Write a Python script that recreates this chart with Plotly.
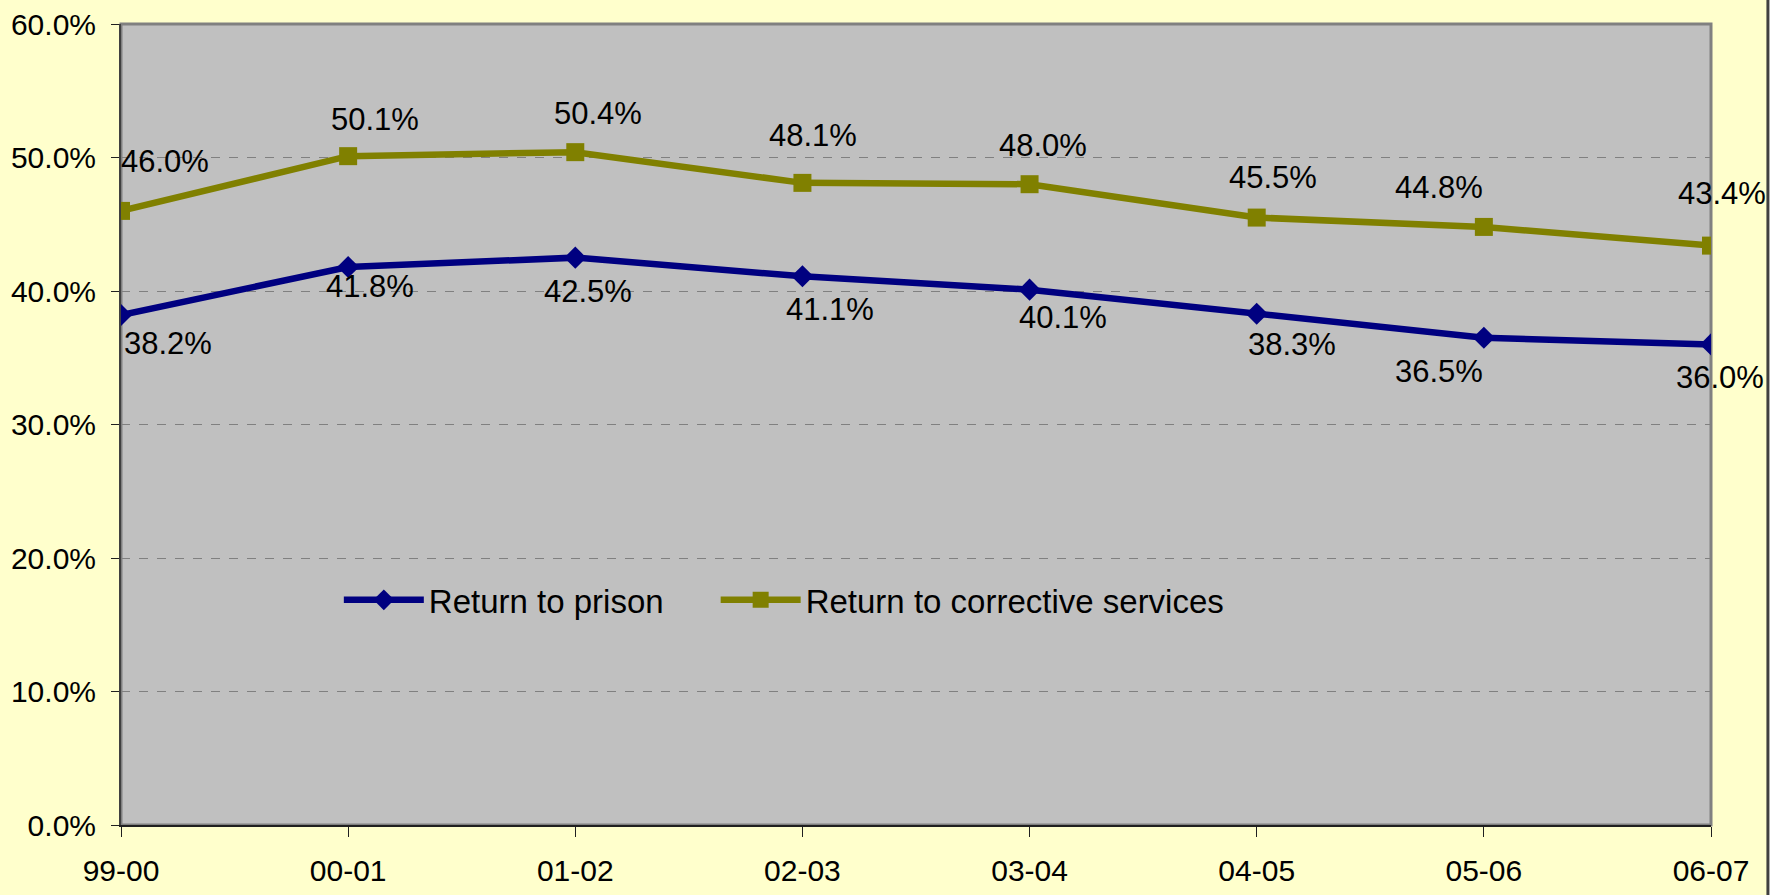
import plotly.graph_objects as go

years = ["99-00", "00-01", "01-02", "02-03", "03-04", "04-05", "05-06", "06-07"]
return_to_prison = [38.2, 41.8, 42.5, 41.1, 40.1, 38.3, 36.5, 36.0]
return_to_corrective = [46.0, 50.1, 50.4, 48.1, 48.0, 45.5, 44.8, 43.4]
y_ticks = [0, 10, 20, 30, 40, 50, 60]

# label pixel offsets (style) relative to the point: (dx, dy down)
prison_label_offsets = [(47, 28), (22, 20), (13, 34), (28, 33), (33, 28), (35, 31), (-45, 34), (9, 33)]
corrective_label_offsets = [(44, -49), (27, -37), (23, -39), (11, -47), (13, -39), (16, -40), (-45, -39), (11, -52)]

FONT = "Liberation Sans, Arial, sans-serif"
NAVY = "#000080"
OLIVE = "#808000"

fig = go.Figure()
fig.add_trace(go.Scatter(
    x=years, y=return_to_prison, name="Return to prison", mode="lines+markers",
    line=dict(color=NAVY, width=6.5),
    marker=dict(symbol="diamond", size=17, color=NAVY),
    legend="legend",
))
fig.add_trace(go.Scatter(
    x=years, y=return_to_corrective, name="Return to corrective services", mode="lines+markers",
    line=dict(color=OLIVE, width=6.5),
    marker=dict(symbol="square", size=18, color=OLIVE),
    legend="legend2",
))

annotations = []
for xv, yv, (dx, dy) in zip(years, return_to_prison, prison_label_offsets):
    annotations.append(dict(x=xv, y=yv, text=f"{yv:.1f}%", showarrow=False,
                            xshift=dx, yshift=-dy, xanchor="center", yanchor="middle",
                            font=dict(family=FONT, size=31, color="black")))
for xv, yv, (dx, dy) in zip(years, return_to_corrective, corrective_label_offsets):
    annotations.append(dict(x=xv, y=yv, text=f"{yv:.1f}%", showarrow=False,
                            xshift=dx, yshift=-dy, xanchor="center", yanchor="middle",
                            font=dict(family=FONT, size=31, color="black")))

shapes = [
    # plot area border (top/right gray)
    dict(type="rect", xref="paper", yref="paper", x0=0, x1=1, y0=0, y1=1,
         line=dict(color="#808080", width=3), layer="below"),
    # white strip + dark border at right edge of the chart
    dict(type="rect", xref="paper", yref="paper", x0=1.0365, x1=1.06, y0=-0.2, y1=1.1,
         line=dict(width=0), fillcolor="white", layer="above"),
    dict(type="line", xref="paper", yref="paper", x0=1.0358, x1=1.0358, y0=-0.2, y1=1.1,
         line=dict(color="#404040", width=3), layer="above"),
]

legend_style = dict(orientation="h", yanchor="middle", xanchor="left", y=0.281,
                    bgcolor="rgba(0,0,0,0)", font=dict(family=FONT, size=33, color="black"),
                    itemwidth=80)

fig.update_layout(
    width=1780, height=895,
    margin=dict(l=121, r=69, t=24, b=70, autoexpand=False),
    paper_bgcolor="#FFFFCC",
    plot_bgcolor="#C0C0C0",
    font=dict(family=FONT, size=30, color="black"),
    showlegend=True,
    legend=dict(x=0.137, **legend_style),
    legend2=dict(x=0.374, **legend_style),
    annotations=annotations,
    shapes=shapes,
)
fig.update_xaxes(
    type="category", range=[0, len(years) - 1],
    showgrid=False, showline=True, linecolor="#202020", linewidth=2,
    ticks="outside", ticklen=10, tickwidth=1, tickcolor="#202020",
    ticklabelstandoff=8, tickfont=dict(family=FONT, size=30),
    zeroline=False,
)
fig.update_yaxes(
    range=[0, 60], tickvals=y_ticks, ticktext=[f"{v:.1f}%" for v in y_ticks],
    showgrid=True, gridcolor="#808080", griddash="dash", gridwidth=1,
    showline=True, linecolor="#404040", linewidth=2,
    ticks="outside", ticklen=8, tickwidth=1, tickcolor="#202020",
    ticklabelstandoff=9, tickfont=dict(family=FONT, size=30),
    zeroline=False,
)

fig.write_html("out.html", config={"displayModeBar": False},
               post_script="document.body.style.margin='0';document.body.style.overflow='hidden';")
